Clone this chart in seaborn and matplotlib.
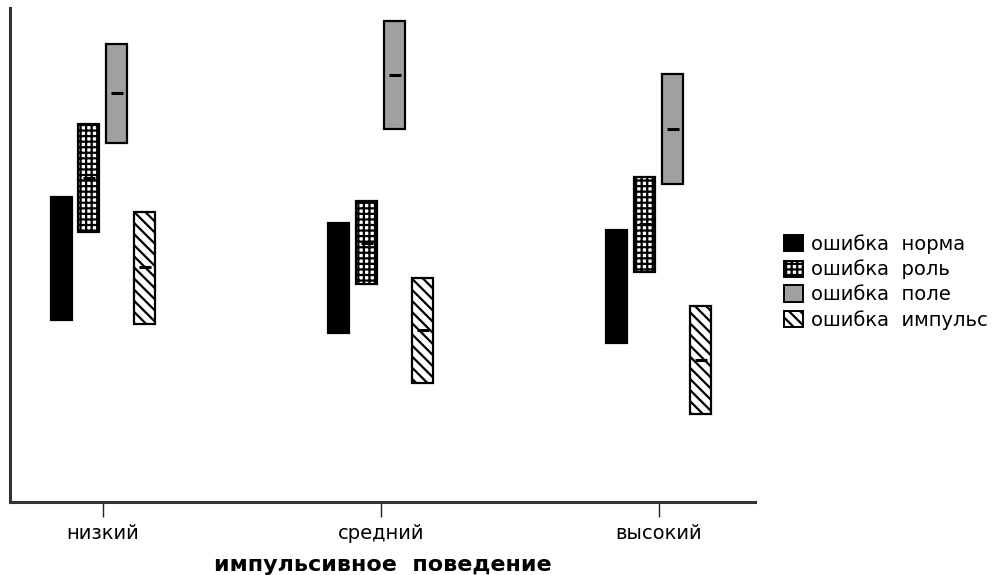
import matplotlib
matplotlib.use("Agg")
import matplotlib.pyplot as plt
import seaborn as sns
import numpy as np
import pandas as pd
from matplotlib.patches import Patch

categories = ["низкий", "средний", "высокий"]
series = ["ошибка  норма", "ошибка  роль", "ошибка  поле", "ошибка  импульс"]

low_norma = [36.8, 34.2, 32.2]
high_norma = [61.7, 56.5, 55.1]
med_norma = [49.0, 45.0, 43.5]

low_rol = [54.7, 44.1, 46.6]
high_rol = [76.5, 60.9, 65.8]
med_rol = [65.6, 52.4, 56.3]

low_pole = [72.7, 75.5, 64.4]
high_pole = [92.7, 97.4, 86.6]
med_pole = [82.8, 86.4, 75.5]

low_imp = [36.0, 24.1, 17.8]
high_imp = [58.7, 45.3, 39.7]
med_imp = [47.6, 34.8, 28.7]

x_label = "импульсивное  поведение"

lows = [low_norma, low_rol, low_pole, low_imp]
highs = [high_norma, high_rol, high_pole, high_imp]
meds = [med_norma, med_rol, med_pole, med_imp]

rows = []
for s, lo, hi, me in zip(series, lows, highs, meds):
    for c, l, h, m in zip(categories, lo, hi, me):
        rows.append({"cat": c, "series": s, "low": l, "high": h, "med": m})
df = pd.DataFrame(rows)

sns.set_theme(style="white")
plt.rcParams["font.family"] = ["DejaVu Sans"]
plt.rcParams["hatch.linewidth"] = 1.6
plt.rcParams["hatch.color"] = "black"

fig = plt.figure(figsize=(10.03, 5.75), dpi=100)
ax = fig.add_axes([10 / 1003, 73 / 575, 745 / 1003, 494 / 575])

faces = ["black", "white", "#a0a0a0", "white"]
hatches = [None, "+++", None, "\\\\\\"]
offsets = [-1.5, -0.5, 0.5, 1.5]
step = 28 / 278
width = 21 / 278

for i, s in enumerate(series):
    sub = df[df["series"] == s]
    xs = np.arange(len(categories)) + offsets[i] * step
    ax.bar(xs, sub["high"].values - sub["low"].values, width=width,
           bottom=sub["low"].values, color=faces[i], edgecolor="black",
           linewidth=1.6, hatch=hatches[i], zorder=2)
    ax.hlines(sub["med"].values, xs - width * 0.27, xs + width * 0.27,
              color="black", linewidth=2.2, zorder=3)

ax.set_xlim(-93 / 278, 652 / 278)
ax.set_ylim(0, 100)
ax.set_xticks(range(len(categories)))
ax.set_xticklabels(categories, fontsize=14, color="black")
ax.set_yticks([])
ax.set_xlabel(x_label, fontsize=16, fontweight="bold", color="black")
ax.xaxis.set_label_coords(0.5, (502 - 555) / 494)

for side in ["top", "right"]:
    ax.spines[side].set_visible(False)
for side in ["left", "bottom"]:
    ax.spines[side].set_color("#333333")
    ax.spines[side].set_linewidth(2.2)
ax.tick_params(axis="x", direction="out", length=11, width=1.0,
               color="#222222", pad=5, bottom=True)

handles = [Patch(facecolor=faces[i], edgecolor="black", hatch=hatches[i],
                 linewidth=1.4) for i in range(len(series))]
fig.legend(handles, series, loc="center left",
           bbox_to_anchor=(776 / 1003, 1 - 282 / 575), frameon=False,
           fontsize=14, labelcolor="black", handlelength=1.0,
           handleheight=0.9, handletextpad=0.4, labelspacing=0.3,
           borderaxespad=0)

fig.savefig("out.png", dpi=100)
